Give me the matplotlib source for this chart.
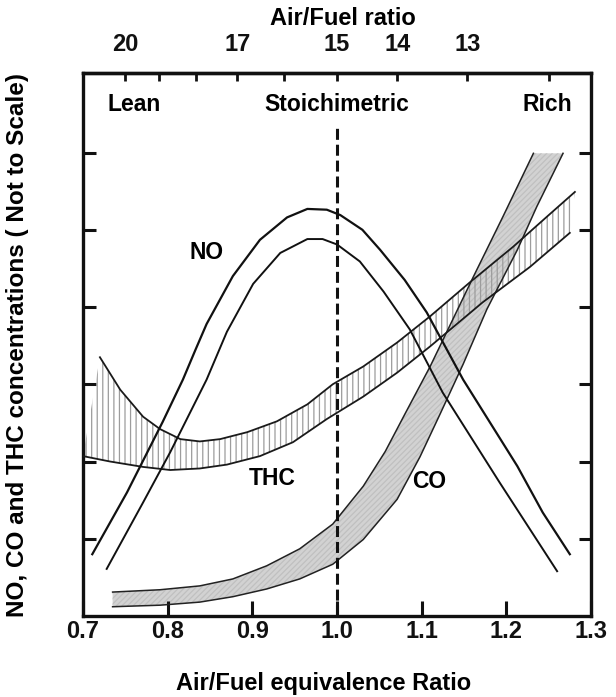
import numpy as np
import matplotlib
matplotlib.use("Agg")
import matplotlib.pyplot as plt

plt.rcParams['font.family'] = ['Liberation Sans', 'DejaVu Sans']
plt.rcParams['font.weight'] = 'bold'
plt.rcParams['hatch.linewidth'] = 0.9

# ---- data -------------------------------------------------------------
# equivalence ratio (phi) on the bottom axis, relative concentration on y
no_hi_x = [0.711, 0.752, 0.794, 0.818, 0.833, 0.846, 0.877, 0.909, 0.941, 0.965,
           0.988, 1.004, 1.030, 1.051, 1.080, 1.106, 1.149, 1.213, 1.243, 1.275]
no_hi_y = [0.80, 1.60, 2.51, 3.06, 3.45, 3.78, 4.40, 4.87, 5.16, 5.27,
           5.26, 5.19, 5.00, 4.74, 4.35, 3.93, 3.06, 1.94, 1.34, 0.80]
no_lo_x = [0.728, 0.771, 0.803, 0.846, 0.870, 0.901, 0.933, 0.965, 0.983,
           1.000, 1.027, 1.055, 1.086, 1.125, 1.192, 1.260]
no_lo_y = [0.61, 1.47, 2.12, 3.06, 3.68, 4.30, 4.70, 4.88, 4.88,
           4.81, 4.59, 4.20, 3.71, 2.89, 1.73, 0.58]

thc_hi_x = [0.720, 0.744, 0.771, 0.791, 0.815, 0.838, 0.862, 0.894, 0.929,
            0.965, 0.995, 1.031, 1.071, 1.110, 1.157, 1.208, 1.248, 1.281]
thc_hi_y = [3.35, 2.93, 2.58, 2.42, 2.29, 2.26, 2.29, 2.38, 2.52,
            2.74, 3.00, 3.23, 3.54, 3.88, 4.32, 4.78, 5.17, 5.49]
thc_lo_x = [0.700, 0.732, 0.771, 0.803, 0.838, 0.870, 0.909, 0.948, 0.988,
            1.031, 1.071, 1.110, 1.172, 1.228, 1.275]
thc_lo_y = [2.07, 2.00, 1.93, 1.89, 1.91, 1.96, 2.07, 2.25, 2.55,
            2.84, 3.15, 3.49, 4.06, 4.52, 4.96]

co_hi_x = [0.735, 0.791, 0.838, 0.877, 0.917, 0.956, 0.995, 1.031, 1.057,
           1.080, 1.110, 1.161, 1.196, 1.232]
co_hi_y = [0.31, 0.34, 0.39, 0.48, 0.65, 0.87, 1.19, 1.68, 2.13,
           2.61, 3.23, 4.39, 5.17, 5.99]
co_lo_x = [0.735, 0.791, 0.838, 0.877, 0.917, 0.956, 0.995, 1.031, 1.071,
           1.098, 1.122, 1.149, 1.177, 1.213, 1.236, 1.267]
co_lo_y = [0.12, 0.14, 0.18, 0.25, 0.35, 0.48, 0.67, 0.99, 1.51,
           2.06, 2.62, 3.26, 3.97, 4.74, 5.30, 5.99]

phi_ticks = [0.7, 0.8, 0.9, 1.0, 1.1, 1.2, 1.3]
phi_labels = ['0.7', '0.8', '0.9', '1.0', '1.1', '1.2', '1.3']
afr_ticks = [20, 19, 18, 17, 16, 15, 14, 13, 12]
afr_labels = ['20', '', '', '17', '', '15', '14', '13', '']
conc_ticks = [1, 2, 3, 4, 5, 6]

AFR_STOICH = 15.0      # air/fuel ratio at phi = 1 on the top scale
PHI_STOICH = 1.0
DASH_TOP = 6.32

# ---- figure -----------------------------------------------------------
fig = plt.figure(figsize=(6.16, 6.97), dpi=100)
ax = fig.add_axes([0.1347, 0.1162, 0.8247, 0.7791])
ax.set_xlim(0.7, 1.3)
ax.set_ylim(0, 7.03)

# CO band: grey stippled strip
co_px = np.r_[co_hi_x, co_lo_x[::-1]]
co_py = np.r_[co_hi_y, co_lo_y[::-1]]
ax.fill(co_px, co_py, facecolor='#d2d2d2', edgecolor='none', zorder=1)
ax.fill(co_px, co_py, facecolor='none', edgecolor='#c0c0c0', hatch='//////',
        linewidth=0, zorder=1.1)
ax.plot(co_hi_x, co_hi_y, color='#222222', lw=1.1, zorder=3)
ax.plot(co_lo_x, co_lo_y, color='#222222', lw=1.1, zorder=3)

# THC band: vertical hatching
thc_px = np.r_[thc_hi_x, thc_lo_x[::-1]]
thc_py = np.r_[thc_hi_y, thc_lo_y[::-1]]
ax.fill(thc_px, thc_py, facecolor='none', edgecolor='#9c9c9c', hatch='|||',
        linewidth=0, zorder=2)
ax.plot(thc_hi_x, thc_hi_y, color='#1a1a1a', lw=1.3, zorder=3)
ax.plot(thc_lo_x, thc_lo_y, color='#1a1a1a', lw=1.3, zorder=3)

# NO band: two outlines
ax.plot(no_hi_x, no_hi_y, color='#111111', lw=1.6, zorder=4)
ax.plot(no_lo_x, no_lo_y, color='#111111', lw=1.4, zorder=4)

# stoichiometric line
ax.vlines(PHI_STOICH, 0, DASH_TOP, colors='#111111', lw=2.2,
          linestyles=(0, (3.6, 1.6)), zorder=5)

# region and curve labels
fs = 16.5
ax.text(0.760, 6.62, 'Lean', ha='center', va='center', fontsize=fs)
ax.text(PHI_STOICH, 6.62, 'Stoichimetric', ha='center', va='center', fontsize=fs)
ax.text(1.248, 6.62, 'Rich', ha='center', va='center', fontsize=fs)
ax.text(0.846, 4.70, 'NO', ha='center', va='center', fontsize=fs)
ax.text(0.923, 1.78, 'THC', ha='center', va='center', fontsize=fs)
ax.text(1.109, 1.74, 'CO', ha='center', va='center', fontsize=fs)

# axes frame and ticks
for sp in ax.spines.values():
    sp.set_linewidth(2.4)
    sp.set_color('#111111')

ax.set_xticks(phi_ticks)
ax.set_xticklabels(phi_labels, fontsize=17)
ax.set_yticks(conc_ticks)
ax.set_yticklabels([])
ax.tick_params(axis='x', direction='in', length=11, width=2.2, pad=3,
               colors='#111111')
ax.tick_params(axis='y', direction='in', length=9, width=2.2,
               left=True, right=True, colors='#111111')


def phi_to_afr(phi):
    phi = np.asarray(phi, dtype=float)
    with np.errstate(divide='ignore'):
        return AFR_STOICH / phi


top = ax.secondary_xaxis('top', functions=(phi_to_afr, phi_to_afr))
top.set_xticks(afr_ticks)
top.set_xticklabels(afr_labels, fontsize=17)
top.tick_params(direction='in', length=6, width=2.0, pad=12, colors='#111111')
top.spines['top'].set_linewidth(2.4)

fig.text(0.557, 0.974, 'Air/Fuel ratio', ha='center', va='center', fontsize=17)
fig.text(0.525, 0.020, 'Air/Fuel equivalence Ratio', ha='center', va='center',
         fontsize=17)
fig.text(0.029, 0.505, 'NO, CO and THC concentrations ( Not to Scale)',
         ha='center', va='center', rotation=90, fontsize=17.5)

fig.savefig('out.png', dpi=100)
